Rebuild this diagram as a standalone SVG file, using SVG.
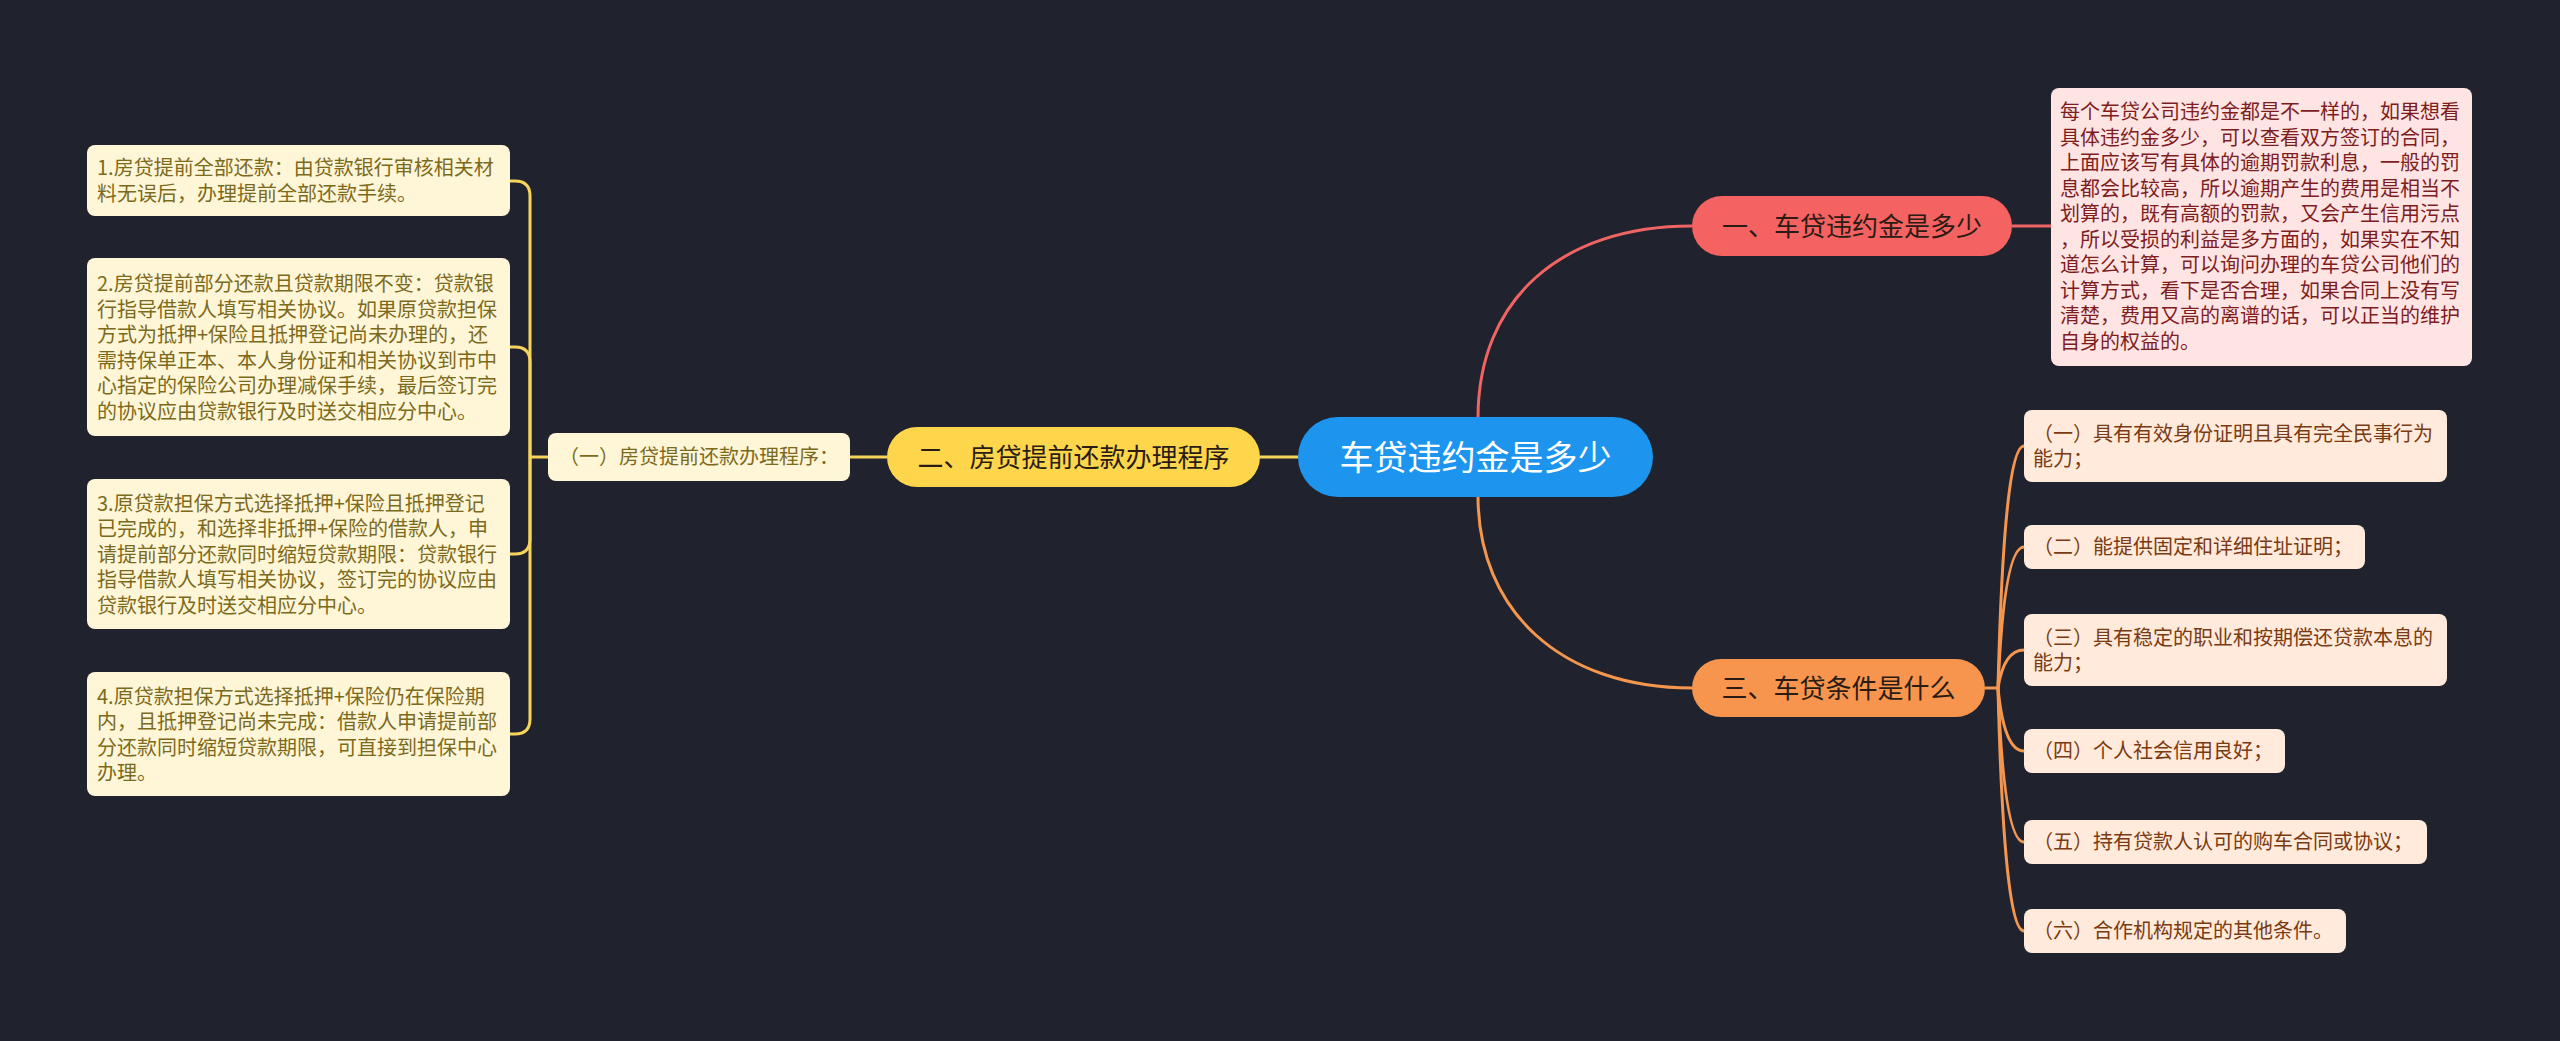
<svg xmlns="http://www.w3.org/2000/svg" width="2560" height="1041" viewBox="0 0 2560 1041">
<style>
text{font-family:"Noto Sans CJK SC","Noto Sans",sans-serif;}
.sm{font-size:20px;}
.br{font-size:26px;fill:#2a1c14;}
.ly{fill:#FFF6D8;}
.lyt{fill:#7C6A1C;}
.rp{fill:#FFEADB;}
.rpt{fill:#7A3A12;}
.cy{fill:none;stroke:#F6D35A;stroke-width:3;}
.co{fill:none;stroke:#F5964F;stroke-width:3;}
.cr{fill:none;stroke:#F06464;stroke-width:3;}
</style>
<rect x="0" y="0" width="2560" height="1041" fill="#20232E"/>
<g id="connectors">
<path class="cy" d="M1260,457 L1298,457"/>
<path class="cy" d="M850,457 L887,457"/>
<path class="cy" d="M548,457 L530,457"/>
<path class="cy" d="M530,457 L530,196 Q530,181 515,181 L510,181"/>
<path class="cy" d="M530,457 L530,362 Q530,347 515,347 L510,347"/>
<path class="cy" d="M530,457 L530,539 Q530,554 515,554 L510,554"/>
<path class="cy" d="M530,457 L530,719 Q530,734 515,734 L510,734"/>
<path class="cr" d="M1478,418 C1478,300 1560,226 1692,226"/>
<path class="cr" d="M2012,226 L2051,226"/>
<path class="co" d="M1478,496 C1478,610 1560,688 1692,688"/>
<path class="co" d="M1985,688 L1998,688"/>
<path class="co" d="M1998,688 Q2004,446 2024,446"/>
<path class="co" d="M1998,688 Q2004,547 2024,547"/>
<path class="co" d="M1998,688 Q2004,650 2024,650"/>
<path class="co" d="M1998,688 Q2004,751 2024,751"/>
<path class="co" d="M1998,688 Q2004,842 2024,842"/>
<path class="co" d="M1998,688 Q2004,931 2024,931"/>
</g>
<g id="root">
<rect x="1298" y="417" width="355" height="80" rx="40" fill="#1D95EE"/>
<text x="1475.5" y="470" font-size="34" fill="#FFFFFF" text-anchor="middle">车贷违约金是多少</text>
</g>
<g id="b2">
<rect x="887" y="427" width="373" height="60" rx="30" fill="#FDD64C"/>
<text class="br" x="1073.5" y="467" text-anchor="middle">二、房贷提前还款办理程序</text>
</g>
<g id="b2-1">
<rect x="548" y="433" width="302" height="48" rx="8" class="ly"/>
<text class="sm lyt" x="699" y="464" text-anchor="middle">（一）房贷提前还款办理程序：</text>
</g>
<g id="l1">
<rect x="87" y="145" width="423" height="71" rx="8" class="ly"/>
<text class="sm lyt" x="97"><tspan x="97" y="175">1.房贷提前全部还款：由贷款银行审核相关材</tspan><tspan x="97" y="200.5">料无误后，办理提前全部还款手续。</tspan></text>
</g>
<g id="l2">
<rect x="87" y="258" width="423" height="178" rx="8" class="ly"/>
<text class="sm lyt" x="97"><tspan x="97" y="291">2.房贷提前部分还款且贷款期限不变：贷款银</tspan><tspan x="97" y="316.5">行指导借款人填写相关协议。如果原贷款担保</tspan><tspan x="97" y="342">方式为抵押+保险且抵押登记尚未办理的，还</tspan><tspan x="97" y="367.5">需持保单正本、本人身份证和相关协议到市中</tspan><tspan x="97" y="393">心指定的保险公司办理减保手续，最后签订完</tspan><tspan x="97" y="418.5">的协议应由贷款银行及时送交相应分中心。</tspan></text>
</g>
<g id="l3">
<rect x="87" y="479" width="423" height="150" rx="8" class="ly"/>
<text class="sm lyt" x="97"><tspan x="97" y="510.5">3.原贷款担保方式选择抵押+保险且抵押登记</tspan><tspan x="97" y="536">已完成的，和选择非抵押+保险的借款人，申</tspan><tspan x="97" y="561.5">请提前部分还款同时缩短贷款期限：贷款银行</tspan><tspan x="97" y="587">指导借款人填写相关协议，签订完的协议应由</tspan><tspan x="97" y="612.5">贷款银行及时送交相应分中心。</tspan></text>
</g>
<g id="l4">
<rect x="87" y="672" width="423" height="124" rx="8" class="ly"/>
<text class="sm lyt" x="97"><tspan x="97" y="703.5">4.原贷款担保方式选择抵押+保险仍在保险期</tspan><tspan x="97" y="729">内，且抵押登记尚未完成：借款人申请提前部</tspan><tspan x="97" y="754.5">分还款同时缩短贷款期限，可直接到担保中心</tspan><tspan x="97" y="780">办理。</tspan></text>
</g>
<g id="b1">
<rect x="1692" y="196" width="320" height="60" rx="30" fill="#F56262"/>
<text class="br" x="1852" y="236" text-anchor="middle">一、车贷违约金是多少</text>
</g>
<g id="b1-1">
<rect x="2051" y="88" width="421" height="278" rx="8" fill="#FFE4E4"/>
<text class="sm" fill="#7E1D1D" x="2060"><tspan x="2060" y="119">每个车贷公司违约金都是不一样的，如果想看</tspan><tspan x="2060" y="144.5">具体违约金多少，可以查看双方签订的合同，</tspan><tspan x="2060" y="170">上面应该写有具体的逾期罚款利息，一般的罚</tspan><tspan x="2060" y="195.5">息都会比较高，所以逾期产生的费用是相当不</tspan><tspan x="2060" y="221">划算的，既有高额的罚款，又会产生信用污点</tspan><tspan x="2060" y="246.5">，所以受损的利益是多方面的，如果实在不知</tspan><tspan x="2060" y="272">道怎么计算，可以询问办理的车贷公司他们的</tspan><tspan x="2060" y="297.5">计算方式，看下是否合理，如果合同上没有写</tspan><tspan x="2060" y="323">清楚，费用又高的离谱的话，可以正当的维护</tspan><tspan x="2060" y="348.5">自身的权益的。</tspan></text>
</g>
<g id="b3">
<rect x="1692" y="659" width="293" height="58" rx="29" fill="#F7954E"/>
<text class="br" x="1838.5" y="698" text-anchor="middle">三、车贷条件是什么</text>
</g>
<g id="r1">
<rect x="2024" y="410" width="423" height="72" rx="8" class="rp"/>
<text class="sm rpt" x="2033"><tspan x="2033" y="440.5">（一）具有有效身份证明且具有完全民事行为</tspan><tspan x="2033" y="466">能力；</tspan></text>
</g>
<g id="r2">
<rect x="2024" y="525" width="341" height="44" rx="8" class="rp"/>
<text class="sm rpt" x="2033" y="554">（二）能提供固定和详细住址证明；</text>
</g>
<g id="r3">
<rect x="2024" y="614" width="423" height="72" rx="8" class="rp"/>
<text class="sm rpt" x="2033"><tspan x="2033" y="644.5">（三）具有稳定的职业和按期偿还贷款本息的</tspan><tspan x="2033" y="670">能力；</tspan></text>
</g>
<g id="r4">
<rect x="2024" y="729" width="261" height="44" rx="8" class="rp"/>
<text class="sm rpt" x="2033" y="758">（四）个人社会信用良好；</text>
</g>
<g id="r5">
<rect x="2024" y="820" width="403" height="44" rx="8" class="rp"/>
<text class="sm rpt" x="2033" y="849">（五）持有贷款人认可的购车合同或协议；</text>
</g>
<g id="r6">
<rect x="2024" y="909" width="322" height="44" rx="8" class="rp"/>
<text class="sm rpt" x="2033" y="938">（六）合作机构规定的其他条件。</text>
</g>
</svg>
